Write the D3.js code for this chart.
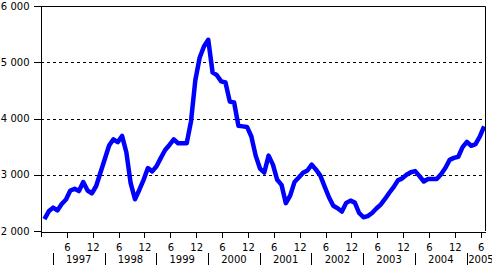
<!DOCTYPE html>
<html lang="en">
    <head>
        <meta charset="utf-8">
        <title>Monthly series 1997-2005</title>
        <script type="text/javascript" src="https://cdn.jsdelivr.net/npm/d3@7"></script>
        <style type="text/css">
            body { margin: 0; background: #fff; }
            .axis path,
            .axis line {
                fill: none;
                stroke: black;
                shape-rendering: crispEdges;
            }
            text {
                font-family: "DejaVu Sans", Verdana, sans-serif;
                font-size: 10px;
                fill: black;
            }
        </style>
    </head>
    <body>
        <script type="text/javascript">

            // Monthly values, first point is just after the axis start
            var values = [
                2210, 2350, 2415, 2365, 2480, 2560, 2720, 2750, 2710, 2870,
                2720, 2670, 2800, 3040, 3280, 3520, 3630, 3580, 3690, 3400,
                2850, 2565, 2730, 2910, 3120, 3060, 3150, 3300, 3440, 3530,
                3630, 3560, 3560, 3560, 3950, 4680, 5080, 5280, 5400, 4820,
                4770, 4660, 4640, 4300, 4285, 3870, 3860, 3850, 3680, 3340,
                3110, 3040, 3340, 3180, 2910, 2820, 2495, 2630, 2870, 2950,
                3035, 3075, 3180, 3090, 2985, 2790, 2600, 2450, 2405, 2345,
                2500, 2540, 2505, 2320, 2245, 2265, 2320, 2400, 2470, 2570,
                2680, 2780, 2900, 2935, 3000, 3045, 3065, 2975, 2880, 2925,
                2925, 2925, 3010, 3120, 3265, 3300, 3320, 3490, 3585, 3515,
                3545, 3680, 3860
            ];
            var startOffset = 0.8;          // months from axis start to first value
            var monthTicks = [6, 12, 18, 24, 30, 36, 42, 48, 54, 60, 66, 72, 78, 84, 90, 96, 102];
            var monthLabels = ["6", "12"];
            var years = ["1997", "1998", "1999", "2000", "2001", "2002", "2003", "2004", "2005"];
            var yearStart = 2.75;           // month position of the first year separator
            var yTicks = [2000, 3000, 4000, 5000, 6000];
            var yGrid = [3000, 4000, 5000];

            // Width and height
            var w = 492;
            var h = 266;
            var padLeft = 41, padRight = 485, padTop = 6, padBottom = 231;

            var xScale = d3.scaleLinear()
                           .domain([0, 103])
                           .range([padLeft, padRight]);

            var yScale = d3.scaleLinear()
                           .domain([2000, 6000])
                           .range([padBottom, padTop]);

            var svg = d3.select("body")
                        .append("svg")
                        .attr("width", w)
                        .attr("height", h);

            svg.append("clipPath")
               .attr("id", "chart-area")
               .append("rect")
               .attr("x", padLeft)
               .attr("y", padTop - 5)
               .attr("width", padRight - padLeft)
               .attr("height", padBottom - padTop + 5);

            // Dashed gridlines
            svg.append("g")
               .selectAll("line")
               .data(yGrid)
               .enter()
               .append("line")
               .attr("x1", padLeft)
               .attr("x2", padRight)
               .attr("y1", function(d) { return Math.round(yScale(d)) + 0.5; })
               .attr("y2", function(d) { return Math.round(yScale(d)) + 0.5; })
               .attr("stroke", "black")
               .attr("stroke-dasharray", "3,3");

            // Frame: top and right
            svg.append("path")
               .attr("d", "M" + padLeft + "," + (padTop + 0.5) + "H" + (padRight + 0.5) + "V" + padBottom)
               .attr("fill", "none")
               .attr("stroke", "black");

            // Line
            var line = d3.line()
                         .x(function(d, i) { return xScale(i + startOffset); })
                         .y(function(d) { return yScale(d); });

            svg.append("path")
               .datum(values)
               .attr("clip-path", "url(#chart-area)")
               .attr("d", line)
               .attr("fill", "none")
               .attr("stroke", "#0000ff")
               .attr("stroke-width", 4.5)
               .attr("stroke-linejoin", "round");

            // Y axis
            var yAxis = d3.axisLeft()
                          .scale(yScale)
                          .tickValues(yTicks)
                          .tickSize(8)
                          .tickPadding(4)
                          .tickFormat(function(d) { return d3.format(",")(d).replace(",", " "); });

            svg.append("g")
               .attr("class", "y axis")
               .attr("transform", "translate(" + (padLeft + 0.5) + ",0)")
               .call(yAxis);

            svg.select(".y.axis").select(".domain").remove();
            svg.append("line")
               .attr("x1", padLeft + 0.5).attr("x2", padLeft + 0.5)
               .attr("y1", padTop).attr("y2", padBottom + 6)
               .attr("stroke", "black");

            // X axis with month ticks
            var xAxis = d3.axisBottom()
                          .scale(xScale)
                          .tickValues(monthTicks)
                          .tickSize(6)
                          .tickPadding(6)
                          .tickSizeOuter(0)
                          .tickFormat(function(d, i) { return monthLabels[i % 2]; });

            svg.append("g")
               .attr("class", "x axis")
               .attr("transform", "translate(0," + (padBottom + 0.5) + ")")
               .call(xAxis);

            svg.selectAll(".axis text")
               .attr("fill", "black")
               .style("font-family", "'DejaVu Sans', Verdana, sans-serif")
               .style("font-size", "10px");

            // Year separators and labels
            var yearG = svg.append("g");

            yearG.selectAll("line")
                 .data(years)
                 .enter()
                 .append("line")
                 .attr("x1", function(d, i) { return Math.round(xScale(yearStart + 12 * i)) + 0.5; })
                 .attr("x2", function(d, i) { return Math.round(xScale(yearStart + 12 * i)) + 0.5; })
                 .attr("y1", 253)
                 .attr("y2", 265)
                 .attr("stroke", "black")
                 .attr("shape-rendering", "crispEdges");

            yearG.selectAll("text")
                 .data(years)
                 .enter()
                 .append("text")
                 .attr("x", function(d, i) {
                     return i < years.length - 1 ? xScale(yearStart + 12 * i + 6) : xScale(yearStart + 12 * i) + 1.5;
                 })
                 .attr("y", 263)
                 .attr("text-anchor", function(d, i) { return i < years.length - 1 ? "middle" : "start"; })
                 .text(function(d) { return d; });

        </script>
    </body>
</html>
